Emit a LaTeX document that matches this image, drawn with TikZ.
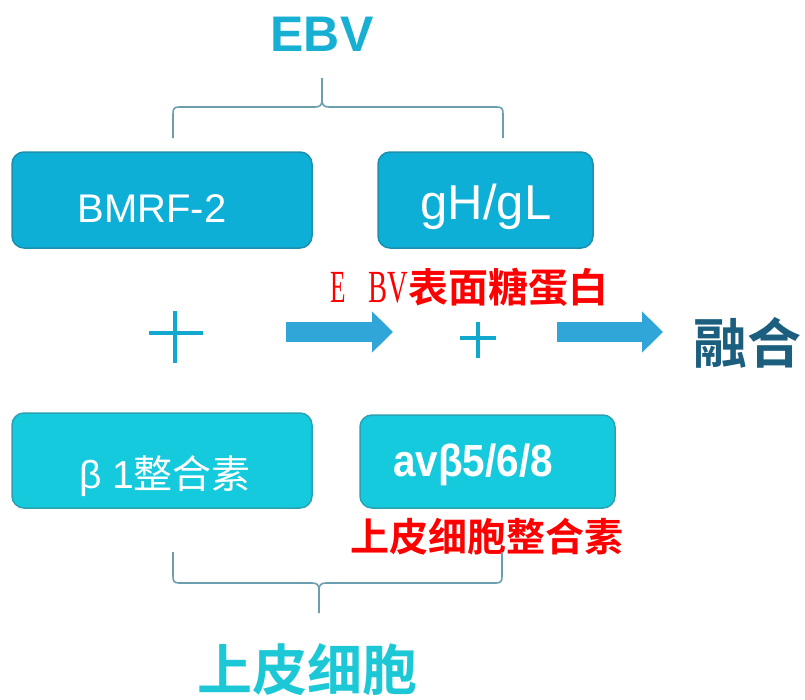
\documentclass[tikz,border=0pt]{standalone}
\usepackage{fontspec}
\setmainfont{Liberation Sans}
\newfontfamily\cjk{Noto Sans CJK SC}
\newfontfamily\cjkb{Noto Sans CJK SC Bold}
\newfontfamily\serifr{Liberation Serif}
\usetikzlibrary{arrows.meta}
\definecolor{boxA}{HTML}{0DAFD6}
\definecolor{boxAd}{HTML}{1D8FAE}
\definecolor{boxB}{HTML}{16CADE}
\definecolor{boxBd}{HTML}{2AA2B4}
\definecolor{titlec}{HTML}{17B0D2}
\definecolor{bracec}{HTML}{6C9FAE}
\definecolor{arrowc}{HTML}{2FA5D8}
\definecolor{plusc}{HTML}{10A8CC}
\definecolor{fusec}{HTML}{1B5E7E}
\definecolor{cellc}{HTML}{1CC8D6}
\begin{document}
\begin{tikzpicture}[x=1pt,y=-1pt,
  topbox/.style={draw=boxAd,line width=1.5pt,fill=boxA,rounded corners=12pt},
  botbox/.style={draw=boxBd,line width=1.5pt,fill=boxB,rounded corners=12pt},
  bracel/.style={draw=bracec,line width=1.6pt},
  fatarrow/.style={draw=arrowc,line width=20pt,-{Triangle[length=21pt,width=40pt]}},
  plusl/.style={draw=plusc,line width=3.2pt}]
\useasboundingbox (0,0) rectangle (805,699);
% title
\node[text=titlec,font=\bfseries\fontsize{50}{50}\selectfont] (ebv) at (322,34) {EBV};
% top brace
\coordinate (tb0) at (322,78);
\coordinate (tbl) at (173,138);
\coordinate (tbr) at (503,138);
\draw[bracel] (tbl) -- (173,114) .. controls (173,109) and (174,107) .. (179,107) -- (315,107)
  .. controls (320,107) and (322,105) .. (322,100) -- (tb0);
\draw[bracel] (tbr) -- (503,114) .. controls (503,109) and (502,107) .. (497,107) -- (329,107)
  .. controls (324,107) and (322,105) .. (322,100);
% top boxes
\draw[topbox] (12,152) rectangle (312,248);
\node[text=white,font=\fontsize{40}{40}\selectfont] (bmrf) at (152,209) {BMRF-2};
\draw[topbox] (378,152) rectangle (593,248);
\node[text=white,font=\fontsize{49}{49}\selectfont] (gh) at (486,207) {gH/gL};
% red label
\node[text=red,anchor=base west,inner sep=0pt] (surf) at (330,302)
  {\serifr\fontsize{46}{46}\selectfont\scalebox{0.55}[1]{E}\hspace{23pt}\scalebox{0.62}[1]{BV}\cjkb\fontsize{40}{40}\selectfont 表面糖蛋白};
% plus signs
\coordinate (p1) at (175,333);
\draw[plusl] (149,333) -- (203,333) (175,311) -- (175,363);
\coordinate (p2) at (478,338);
\draw[plusl] (460,338) -- (496,338) (478,322) -- (478,358);
% arrows
\coordinate (a1s) at (286,332);
\coordinate (a1e) at (393,332);
\coordinate (a2s) at (557,332);
\coordinate (a2e) at (663,332);
\draw[fatarrow] (a1s) -- (a1e);
\draw[fatarrow] (a2s) -- (a2e);
% fusion
\node[text=fusec,font=\cjkb\fontsize{54}{54}\selectfont] (fuse) at (747,343) {融合};
% bottom boxes
\draw[botbox] (12,413) rectangle (312,508);
\node[text=white,font=\fontsize{39}{39}\selectfont] (b1) at (165,476) {β 1{\cjk 整合素}};
\draw[botbox] (360,415) rectangle (615,508);
\node[text=white,font=\bfseries\fontsize{45}{45}\selectfont] (av) at (473,465) {\scalebox{0.9}[1]{avβ5/6/8}};
% red label 2
\node[text=red,font=\cjkb\fontsize{39}{39}\selectfont] (epi) at (487,537) {上皮细胞整合素};
% bottom brace
\coordinate (bbl) at (173,552);
\coordinate (bbr) at (502,552);
\coordinate (bb0) at (319,613);
\draw[bracel] (bbl) -- (173,576) .. controls (173,581) and (174,583) .. (179,583) -- (312,583)
  .. controls (317,583) and (319,585) .. (319,590) -- (bb0);
\draw[bracel] (bbr) -- (502,576) .. controls (502,581) and (501,583) .. (496,583) -- (326,583)
  .. controls (321,583) and (319,585) .. (319,590);
% cell label
\node[text=cellc,font=\cjkb\fontsize{55}{55}\selectfont] (cell) at (307,670) {上皮细胞};
\end{tikzpicture}
\end{document}
